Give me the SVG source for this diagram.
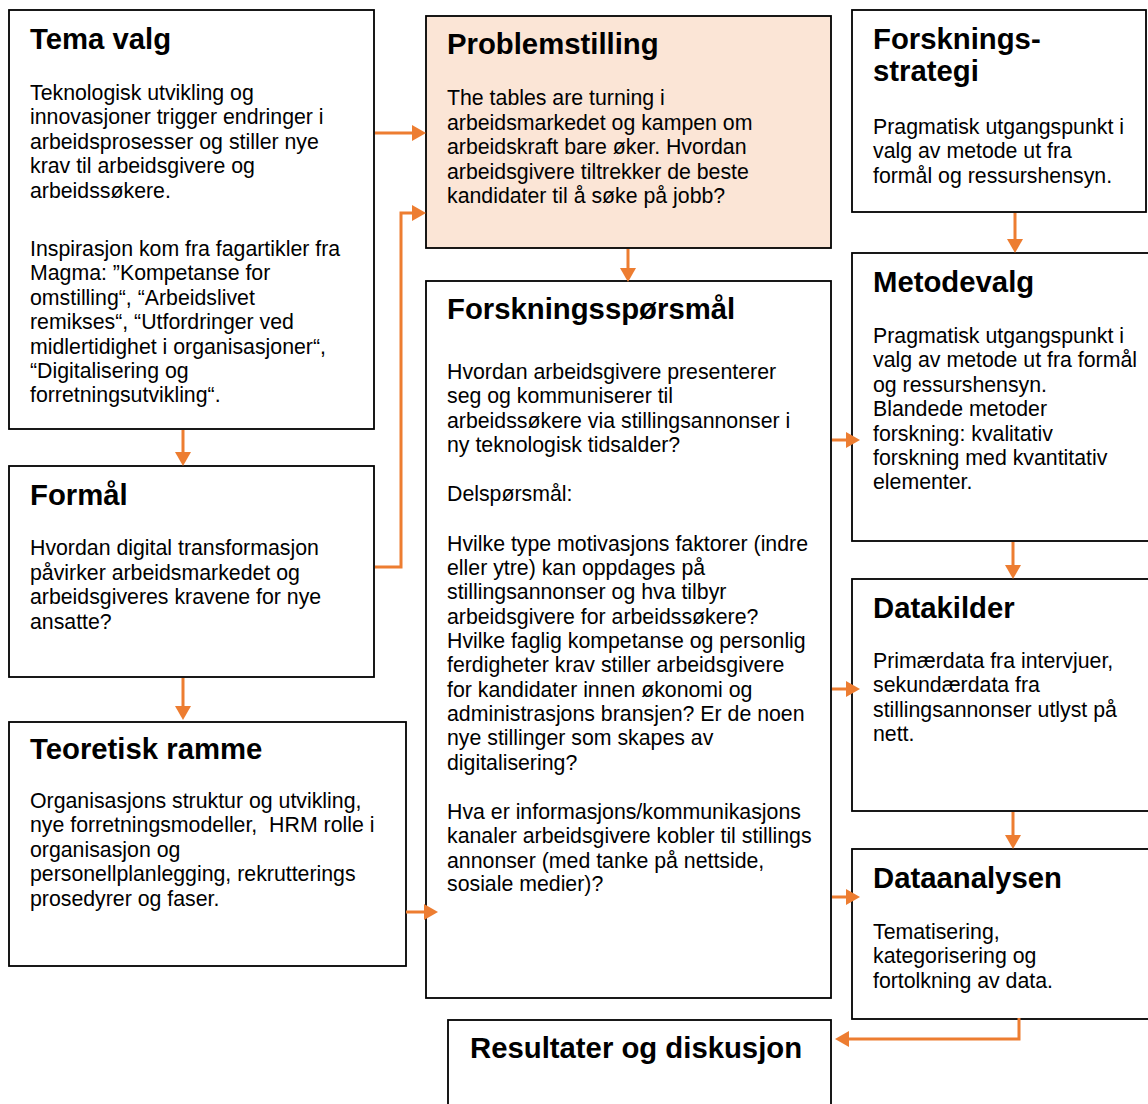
<svg xmlns="http://www.w3.org/2000/svg" width="1148" height="1104" viewBox="0 0 1148 1104">
<defs>
<marker id="ah" markerUnits="userSpaceOnUse" markerWidth="14" markerHeight="16" viewBox="0 0 14 16" refX="0" refY="8" orient="auto">
<path d="M0,0 L14,8 L0,16 Z" fill="#ED7D31"/>
</marker>
<style>
.box{fill:#fff;stroke:#000;stroke-width:1.8}
.peach{fill:#FBE5D6}
.h{font-family:"Liberation Sans",Arial,sans-serif;font-weight:bold;font-size:29.3px;fill:#000}
.t{font-family:"Liberation Sans",Arial,sans-serif;font-size:21.3px;fill:#000;white-space:pre}
.c{fill:none;stroke:#ED7D31;stroke-width:3;marker-end:url(#ah)}
</style>
</defs>
<rect width="1148" height="1104" fill="#fff"/>

<g id="tema-valg">
<rect class="box" x="9" y="10" width="365" height="419"/>
<text class="h" x="30" y="49">Tema valg</text>
<text class="t" x="30" y="100">Teknologisk utvikling og</text>
<text class="t" x="30" y="124.4">innovasjoner trigger endringer i</text>
<text class="t" x="30" y="148.8">arbeidsprosesser og stiller nye</text>
<text class="t" x="30" y="173.2">krav til arbeidsgivere og</text>
<text class="t" x="30" y="197.6">arbeidssøkere.</text>
<text class="t" x="30" y="256">Inspirasjon kom fra fagartikler fra</text>
<text class="t" x="30" y="280.4">Magma: ”Kompetanse for</text>
<text class="t" x="30" y="304.8">omstilling“, “Arbeidslivet</text>
<text class="t" x="30" y="329.2">remikses“, “Utfordringer ved</text>
<text class="t" x="30" y="353.6">midlertidighet i organisasjoner“,</text>
<text class="t" x="30" y="378">“Digitalisering og</text>
<text class="t" x="30" y="402.4">forretningsutvikling“.</text>
</g>

<g id="formal">
<rect class="box" x="9" y="466" width="365" height="211"/>
<text class="h" x="30" y="505">Formål</text>
<text class="t" x="30" y="555">Hvordan digital transformasjon</text>
<text class="t" x="30" y="579.5">påvirker arbeidsmarkedet og</text>
<text class="t" x="30" y="604">arbeidsgiveres kravene for nye</text>
<text class="t" x="30" y="628.5">ansatte?</text>
</g>

<g id="teoretisk-ramme">
<rect class="box" x="9" y="722" width="397" height="244"/>
<text class="h" x="30" y="759">Teoretisk ramme</text>
<text class="t" x="30" y="808">Organisasjons struktur og utvikling,</text>
<text class="t" x="30" y="832.4" xml:space="preserve">nye forretningsmodeller,  HRM rolle i</text>
<text class="t" x="30" y="856.8">organisasjon og</text>
<text class="t" x="30" y="881.2">personellplanlegging, rekrutterings</text>
<text class="t" x="30" y="905.6">prosedyrer og faser.</text>
</g>

<g id="problemstilling">
<rect class="box peach" x="426" y="16" width="405" height="232"/>
<text class="h" x="447" y="54">Problemstilling</text>
<text class="t" x="447" y="105">The tables are turning i</text>
<text class="t" x="447" y="129.6">arbeidsmarkedet og kampen om</text>
<text class="t" x="447" y="154.2">arbeidskraft bare øker. Hvordan</text>
<text class="t" x="447" y="178.8">arbeidsgivere tiltrekker de beste</text>
<text class="t" x="447" y="203.4">kandidater til å søke på jobb?</text>
</g>

<g id="forskningssporsmal">
<rect class="box" x="426" y="281" width="405" height="717"/>
<text class="h" x="447" y="319">Forskningsspørsmål</text>
<text class="t" x="447" y="379">Hvordan arbeidsgivere presenterer</text>
<text class="t" x="447" y="403.4">seg og kommuniserer til</text>
<text class="t" x="447" y="427.8">arbeidssøkere via stillingsannonser i</text>
<text class="t" x="447" y="452.2">ny teknologisk tidsalder?</text>
<text class="t" x="447" y="501">Delspørsmål:</text>
<text class="t" x="447" y="551">Hvilke type motivasjons faktorer (indre</text>
<text class="t" x="447" y="575">eller ytre) kan oppdages på</text>
<text class="t" x="447" y="599.3">stillingsannonser og hva tilbyr</text>
<text class="t" x="447" y="623.6">arbeidsgivere for arbeidssøkere?</text>
<text class="t" x="447" y="648">Hvilke faglig kompetanse og personlig</text>
<text class="t" x="447" y="672.3">ferdigheter krav stiller arbeidsgivere</text>
<text class="t" x="447" y="696.6">for kandidater innen økonomi og</text>
<text class="t" x="447" y="721">administrasjons bransjen? Er de noen</text>
<text class="t" x="447" y="745.3">nye stillinger som skapes av</text>
<text class="t" x="447" y="769.6">digitalisering?</text>
<text class="t" x="447" y="819">Hva er informasjons/kommunikasjons</text>
<text class="t" x="447" y="843.4">kanaler arbeidsgivere kobler til stillings</text>
<text class="t" x="447" y="867.8">annonser (med tanke på nettside,</text>
<text class="t" x="447" y="891.2">sosiale medier)?</text>
</g>

<g id="forskningsstrategi">
<rect class="box" x="852" y="10" width="294" height="202"/>
<text class="h" x="873" y="49">Forsknings-</text>
<text class="h" x="873" y="81">strategi</text>
<text class="t" x="873" y="134">Pragmatisk utgangspunkt i</text>
<text class="t" x="873" y="158.4">valg av metode ut fra</text>
<text class="t" x="873" y="182.8">formål og ressurshensyn.</text>
</g>

<g id="metodevalg">
<rect class="box" x="852" y="253" width="310" height="288"/>
<text class="h" x="873" y="292">Metodevalg</text>
<text class="t" x="873" y="343">Pragmatisk utgangspunkt i</text>
<text class="t" x="873" y="367.4">valg av metode ut fra formål</text>
<text class="t" x="873" y="391.8">og ressurshensyn.</text>
<text class="t" x="873" y="416.2">Blandede metoder</text>
<text class="t" x="873" y="440.6">forskning: kvalitativ</text>
<text class="t" x="873" y="465">forskning med kvantitativ</text>
<text class="t" x="873" y="489.4">elementer.</text>
</g>

<g id="datakilder">
<rect class="box" x="852" y="579" width="310" height="232"/>
<text class="h" x="873" y="618">Datakilder</text>
<text class="t" x="873" y="668">Primærdata fra intervjuer,</text>
<text class="t" x="873" y="692.4">sekundærdata fra</text>
<text class="t" x="873" y="716.8">stillingsannonser utlyst på</text>
<text class="t" x="873" y="741.2">nett.</text>
</g>

<g id="dataanalysen">
<rect class="box" x="852" y="849" width="310" height="170"/>
<text class="h" x="873" y="888">Dataanalysen</text>
<text class="t" x="873" y="939">Tematisering,</text>
<text class="t" x="873" y="963.4">kategorisering og</text>
<text class="t" x="873" y="987.8">fortolkning av data.</text>
</g>

<g id="resultater">
<rect class="box" x="448" y="1020" width="383" height="100"/>
<text class="h" x="470" y="1058">Resultater og diskusjon</text>
</g>

<g id="connectors">
<path class="c" d="M375,133 L412,133"/>
<path class="c" d="M375,567 L401,567 L401,213 L412,213"/>
<path class="c" d="M183,430 L183,452"/>
<path class="c" d="M183,678 L183,706"/>
<path class="c" d="M406,912 L424,912"/>
<path class="c" d="M628,249 L628,268"/>
<path class="c" d="M1015,213 L1015,239"/>
<path class="c" d="M1013,542 L1013,565"/>
<path class="c" d="M1013,812 L1013,835"/>
<path class="c" d="M832,440 L846,440"/>
<path class="c" d="M832,689 L846,689"/>
<path class="c" d="M832,897 L846,897"/>
<path class="c" d="M1019,1018 L1019,1039 L849,1039"/>
</g>
</svg>
